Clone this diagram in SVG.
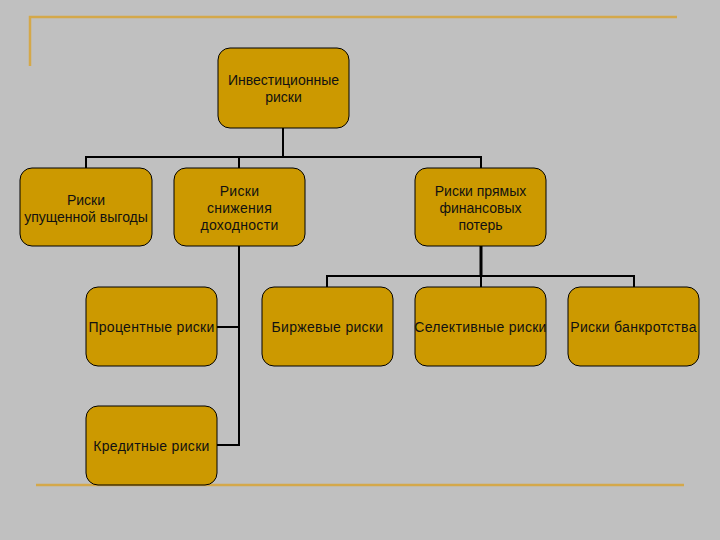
<svg xmlns="http://www.w3.org/2000/svg" width="720" height="540" viewBox="0 0 720 540">
<style>
.box{fill:#CC9900;stroke:#000;stroke-width:1}
.t{font-family:"Liberation Sans",Arial,sans-serif;font-size:14px;fill:#111;text-anchor:middle}
.w{letter-spacing:0.3px}
.c{fill:none;stroke:#000;stroke-width:2}
.deco{fill:none;stroke:#D4A84A;stroke-width:2.5}
</style>
<rect width="720" height="540" fill="#C0C0C0"/>
<g id="decor">
<polyline class="deco" points="30,66 30,17 677,17"/>
<line class="deco" x1="36" y1="485" x2="684" y2="485"/>
</g>
<g id="connectors">
<polyline class="c" points="283,128 283,157"/>
<polyline class="c" points="86,168 86,157 481,157 481,168"/>
<line class="c" x1="239" y1="157" x2="239" y2="168"/>
<polyline class="c" points="239,246 239,445 217,445"/>
<line class="c" x1="217" y1="327" x2="239" y2="327"/>
<line class="c" x1="481" y1="246" x2="481" y2="276" style="stroke-width:3"/>
<polyline class="c" points="327,287 327,276 634,276 634,287"/>
<line class="c" x1="481" y1="276" x2="481" y2="287"/>
</g>
<g id="root"><rect class="box" x="218" y="48" width="131" height="80" rx="12"/><text class="t" x="283.5" y="85">Инвестиционные</text><text class="t" x="283.5" y="102">риски</text></g>
<g id="n1"><rect class="box" x="20" y="168" width="132" height="78" rx="12"/><text class="t" x="86" y="205">Риски</text><text class="t" x="86" y="222">упущенной выгоды</text></g>
<g id="n2"><rect class="box" x="174" y="168" width="131" height="78" rx="12"/><text class="t w" x="239.5" y="196">Риски</text><text class="t w" x="239.5" y="213">снижения</text><text class="t w" x="239.5" y="230">доходности</text></g>
<g id="n3"><rect class="box" x="415" y="168" width="131" height="78" rx="12"/><text class="t" x="480.5" y="196">Риски прямых</text><text class="t" x="480.5" y="213">финансовых</text><text class="t" x="480.5" y="230">потерь</text></g>
<g id="n4"><rect class="box" x="86" y="287" width="131" height="79" rx="12"/><text class="t w" x="151.5" y="332">Процентные риски</text></g>
<g id="n5"><rect class="box" x="86" y="406" width="131" height="79" rx="12"/><text class="t w" x="151.5" y="451">Кредитные риски</text></g>
<g id="n6"><rect class="box" x="262" y="287" width="131" height="79" rx="12"/><text class="t w" x="327.5" y="332">Биржевые риски</text></g>
<g id="n7"><rect class="box" x="415" y="287" width="131" height="79" rx="12"/><text class="t w" x="480.5" y="332">Селективные риски</text></g>
<g id="n8"><rect class="box" x="568" y="287" width="131" height="79" rx="12"/><text class="t w" x="633.5" y="332">Риски банкротства</text></g>
</svg>
